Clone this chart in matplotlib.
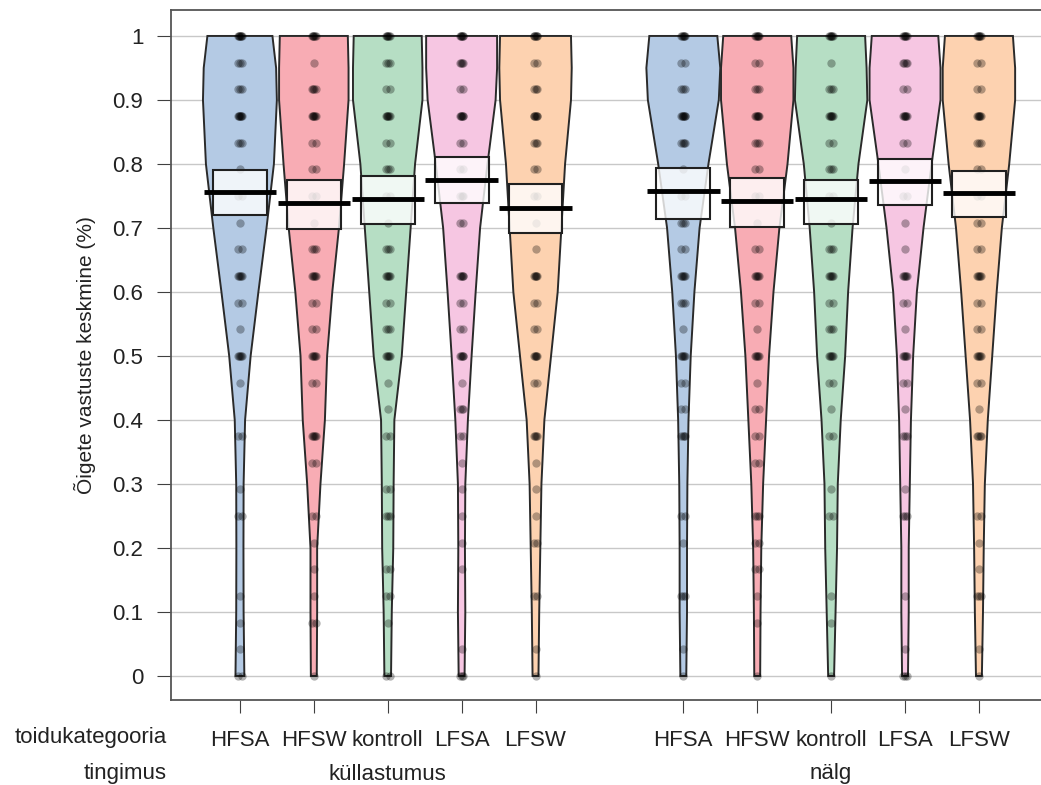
import numpy as np
import matplotlib
matplotlib.use("Agg")
import matplotlib.pyplot as plt
from matplotlib.transforms import blended_transform_factory

plt.rcParams['font.family'] = ['Liberation Sans', 'DejaVu Sans']

# andmed
toidukategooria = ["HFSA", "HFSW", "kontroll", "LFSA", "LFSW"]
tingimused = ["küllastumus", "nälg"]
positsioonid = [1, 2, 3, 4, 5, 7, 8, 9, 10, 11]
varvid = ["#b4cae4", "#f8acb4", "#b6dec4", "#f6c6e2", "#fdd2b0"]

# keskmised ja usaldusvahemikud (loetud pildilt)
keskmised = [0.756, 0.739, 0.745, 0.775, 0.731, 0.758, 0.742, 0.745, 0.773, 0.755]
vahemik_all = [0.72, 0.698, 0.706, 0.739, 0.692, 0.714, 0.702, 0.706, 0.736, 0.717]
vahemik_yla = [0.79, 0.775, 0.781, 0.811, 0.769, 0.794, 0.778, 0.775, 0.808, 0.789]

# tiheduse profiil (poollaius) tasemetel
tasemed = [0, 0.1, 0.2, 0.3, 0.4, 0.5, 0.6, 0.7, 0.8, 0.9, 0.95, 1.0]
laius_HFSA1 = [0.06, 0.05, 0.048, 0.05, 0.07, 0.145, 0.25, 0.36, 0.46, 0.50, 0.49, 0.44]
laius_HFSW1 = [0.04, 0.045, 0.045, 0.09, 0.15, 0.18, 0.25, 0.34, 0.41, 0.47, 0.47, 0.46]
laius_kontroll1 = [0.045, 0.055, 0.075, 0.08, 0.09, 0.19, 0.25, 0.31, 0.37, 0.47, 0.47, 0.46]
laius_LFSA1 = [0.04, 0.05, 0.045, 0.05, 0.085, 0.135, 0.19, 0.25, 0.35, 0.46, 0.48, 0.48]
laius_LFSW1 = [0.04, 0.05, 0.065, 0.08, 0.12, 0.21, 0.30, 0.35, 0.40, 0.48, 0.49, 0.48]
laius_HFSA2 = [0.04, 0.05, 0.05, 0.055, 0.07, 0.10, 0.15, 0.22, 0.34, 0.48, 0.50, 0.46]
laius_HFSW2 = [0.04, 0.045, 0.055, 0.08, 0.12, 0.16, 0.22, 0.30, 0.41, 0.49, 0.49, 0.46]
laius_kontroll2 = [0.04, 0.06, 0.08, 0.09, 0.13, 0.19, 0.23, 0.29, 0.37, 0.49, 0.48, 0.46]
laius_LFSA2 = [0.04, 0.05, 0.05, 0.065, 0.08, 0.11, 0.16, 0.25, 0.36, 0.48, 0.48, 0.45]
laius_LFSW2 = [0.04, 0.055, 0.065, 0.08, 0.12, 0.18, 0.24, 0.31, 0.41, 0.49, 0.49, 0.46]
laiused = [laius_HFSA1, laius_HFSW1, laius_kontroll1, laius_LFSA1, laius_LFSW1,
           laius_HFSA2, laius_HFSW2, laius_kontroll2, laius_LFSA2, laius_LFSW2]

# vastuste arv igal tasemel k/24
vaartused = [k / 24 for k in range(25)]
arv_HFSA1 = [2, 1, 1, 1, 0, 0, 2, 1, 0, 2, 0, 1, 5, 1, 2, 5, 2, 1, 2, 1, 3, 7, 3, 3, 7]
arv_HFSW1 = [1, 0, 2, 1, 1, 1, 2, 0, 2, 5, 0, 2, 5, 2, 2, 5, 3, 1, 2, 2, 2, 6, 4, 1, 6]
arv_kontroll1 = [2, 0, 1, 2, 2, 0, 3, 2, 0, 2, 1, 1, 5, 3, 2, 5, 3, 1, 2, 3, 2, 6, 2, 3, 6]
arv_LFSA1 = [3, 1, 0, 0, 1, 1, 1, 1, 1, 2, 3, 1, 5, 2, 2, 5, 0, 2, 3, 2, 2, 6, 2, 4, 6]
arv_LFSW1 = [1, 1, 0, 2, 0, 2, 1, 1, 1, 4, 0, 2, 5, 2, 2, 5, 1, 1, 2, 2, 3, 6, 3, 2, 6]
arv_HFSA2 = [1, 1, 0, 3, 0, 1, 2, 0, 0, 4, 2, 2, 5, 1, 3, 5, 2, 3, 2, 1, 4, 7, 3, 2, 6]
arv_HFSW2 = [1, 0, 1, 1, 2, 2, 3, 0, 2, 2, 2, 1, 5, 1, 2, 5, 2, 1, 2, 2, 3, 6, 3, 2, 6]
arv_kontroll2 = [1, 0, 1, 1, 0, 0, 2, 1, 0, 2, 1, 2, 5, 3, 2, 5, 3, 1, 2, 3, 2, 6, 3, 1, 6]
arv_LFSA2 = [3, 1, 0, 1, 0, 0, 3, 1, 0, 3, 1, 2, 5, 1, 2, 5, 1, 1, 2, 1, 2, 6, 2, 4, 6]
arv_LFSW2 = [1, 1, 0, 3, 1, 1, 2, 0, 0, 4, 1, 2, 5, 2, 2, 5, 2, 2, 2, 2, 3, 6, 2, 2, 6]
arvud = [arv_HFSA1, arv_HFSW1, arv_kontroll1, arv_LFSA1, arv_LFSW1,
         arv_HFSA2, arv_HFSW2, arv_kontroll2, arv_LFSA2, arv_LFSW2]

fig = plt.figure(figsize=(10.41, 7.85), dpi=100)
ax = fig.add_axes([0.1643, 0.1083, 0.8357, 0.879])

ax.set_xlim(0.068, 11.84)
ax.set_ylim(-0.0375, 1.0406)

for yy in np.arange(0, 1.01, 0.1):
    ax.axhline(yy, color="#c8c8c8", lw=1, zorder=0)

for i, pos in enumerate(positsioonid):
    varv = varvid[i % 5]
    w = np.array(laiused[i])
    yv = np.array(tasemed)
    xs = np.concatenate([pos + w, (pos - w)[::-1]])
    ys = np.concatenate([yv, yv[::-1]])
    ax.fill(xs, ys, facecolor=varv, edgecolor="#2a2a2a", lw=1.4, zorder=2)

    # punktid
    for v, n in zip(vaartused, arvud[i]):
        if n == 0:
            continue
        nihe = np.linspace(-0.025, 0.025, n) if n > 1 else np.array([0.0])
        ax.plot(pos + nihe, [v] * n, "o", color="black", alpha=0.3,
                ms=6, mew=0, zorder=3)

    # usaldusvahemik
    ax.add_patch(plt.Rectangle((pos - 0.365, vahemik_all[i]), 0.73,
                               vahemik_yla[i] - vahemik_all[i],
                               facecolor=(1, 1, 1, 0.8), edgecolor="#202020",
                               lw=1.5, zorder=4))
    # keskmine
    ax.plot([pos - 0.49, pos + 0.49], [keskmised[i]] * 2, color="black",
            lw=3.5, solid_capstyle="butt", zorder=5)

ax.set_yticks(np.arange(0, 1.01, 0.1))
ax.set_yticklabels(["0", "0.1", "0.2", "0.3", "0.4", "0.5", "0.6", "0.7",
                    "0.8", "0.9", "1"])
ax.tick_params(axis="y", length=10, pad=10, labelsize=16, color="#404040",
               labelcolor="#222222")
ax.set_xticks(positsioonid)
ax.set_xticklabels(toidukategooria * 2)
ax.tick_params(axis="x", length=9.5, pad=12, labelsize=16, color="#404040",
               labelcolor="#222222")

for s in ["left", "top", "bottom"]:
    ax.spines[s].set_color("#555555")
    ax.spines[s].set_linewidth(1.3)
ax.spines["right"].set_visible(False)

ax.set_ylabel("Õigete vastuste keskmine (%)", fontsize=15, color="#222222",
              labelpad=12)

tr = blended_transform_factory(ax.transData, fig.transFigure)
fig.text(167 / 1041, 1 - 738 / 785, "toidukategooria", ha="right",
         va="center", fontsize=16, color="#222222")
fig.text(167 / 1041, 1 - 774 / 785, "tingimus", ha="right", va="center",
         fontsize=16, color="#222222")
ax.text(3, 1 - 774 / 785, tingimused[0], transform=tr, ha="center",
        va="center", fontsize=16, color="#222222")
ax.text(9, 1 - 774 / 785, tingimused[1], transform=tr, ha="center",
        va="center", fontsize=16, color="#222222")

fig.savefig("out.png", dpi=100)
